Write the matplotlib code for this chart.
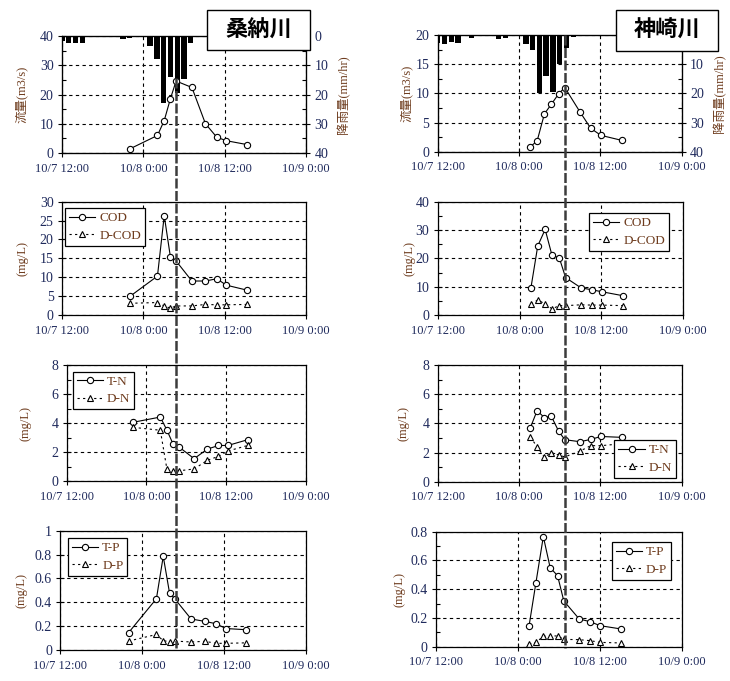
#!/usr/bin/env python3

import numpy as np
import pandas as pd
import matplotlib
matplotlib.use("Agg")
import matplotlib.pyplot as plt
from matplotlib.lines import Line2D
from matplotlib.patches import Rectangle
from matplotlib.ticker import MultipleLocator, FuncFormatter

plt.rcParams['font.family'] = ['Liberation Serif', 'Noto Sans CJK JP']

START = pd.Timestamp("1900-10-07 12:00")
X_TICKS = ["10/7 12:00", "10/8 0:00", "10/8 12:00", "10/9 0:00"]

# 桑納川
kuwano_times = ["10/7 22:00", "10/8 2:05", "10/8 3:05", "10/8 4:00", "10/8 4:50",
                "10/8 7:10", "10/8 9:10", "10/8 10:50", "10/8 12:15", "10/8 15:15"]
kuwano_flow = [1.4, 6.0, 11.1, 18.6, 24.6, 22.4, 10.0, 5.4, 4.2, 2.9]
kuwano_rain = [1.7, 2.3, 2.5, 2.5, 0, 0, 0.3, 0, 0, 1.0, 0.7, 0.3, 0,
               3.4, 7.9, 22.8, 14.0, 19.4, 14.7, 2.4]
kuwano_cod = [4.9, 10.3, 26.3, 15.3, 14.3, 9.0, 9.0, 9.6, 7.9, 6.6]
kuwano_dcod = [3.1, 3.3, 2.4, 1.8, 2.4, 2.4, 2.8, 2.7, 2.7, 2.8]
kuwano_tn = [4.05, 4.41, 3.5, 2.55, 2.37, 1.54, 2.2, 2.45, 2.45, 2.85]
kuwano_dn = [3.7, 3.5, 0.8, 0.7, 0.7, 0.83, 1.43, 1.7, 2.07, 2.45]
kuwano_tp = [0.145, 0.43, 0.785, 0.48, 0.425, 0.26, 0.24, 0.22, 0.18, 0.17]
kuwano_dp = [0.075, 0.13, 0.078, 0.07, 0.075, 0.067, 0.073, 0.056, 0.056, 0.06]
kuwano_peak = 4

# 神崎川
kanzaki_times = ["10/8 1:40", "10/8 2:40", "10/8 3:45", "10/8 4:45", "10/8 5:50",
                 "10/8 6:45", "10/8 9:00", "10/8 10:35", "10/8 12:05", "10/8 15:10"]
kanzaki_flow = [0.86, 1.83, 6.5, 8.1, 9.9, 11.0, 6.8, 4.0, 2.8, 1.94]
kanzaki_rain = [2.6, 3.2, 2.3, 2.7, 0, 0.9, 0, 0, 0, 1.3, 0.9, 0, 0.3,
                3.2, 5.0, 19.8, 14.0, 19.5, 10.0, 4.3, 0.8]
kanzaki_cod = [9.6, 24.4, 30.2, 21.1, 20.1, 13.2, 9.6, 8.9, 8.2, 6.8]
kanzaki_dcod = [3.9, 5.3, 3.9, 2.2, 3.3, 3.3, 3.6, 3.5, 3.5, 3.3]
kanzaki_tn = [3.7, 4.87, 4.39, 4.5, 3.47, 2.88, 2.74, 2.9, 3.1, 3.04]
kanzaki_dn = [3.06, 2.4, 1.67, 2.0, 1.83, 1.7, 2.1, 2.47, 2.47, 2.6]
kanzaki_tp = [0.146, 0.445, 0.766, 0.55, 0.494, 0.318, 0.193, 0.174, 0.146, 0.123]
kanzaki_dp = [0.019, 0.03, 0.072, 0.077, 0.074, 0.051, 0.049, 0.042, 0.03, 0.026]
kanzaki_peak = 5

W, H = 730, 681
TICK_C = '#1f2a5c'
LABEL_C = '#6e3c1e'


def hours(labels):
    t = pd.to_datetime(pd.Series(labels), format="%m/%d %H:%M")
    return ((t - START) / pd.Timedelta(hours=1)).to_numpy()


def box(x0, y0, x1, y1):
    return [x0 / W, 1 - y1 / H, (x1 - x0) / W, (y1 - y0) / H]


def style(ax, ymax, major, minor=None):
    ax.set_xlim(0, 36)
    ax.set_ylim(0, ymax)
    ax.set_xticks(hours(X_TICKS))
    ax.set_xticklabels(X_TICKS)
    ax.yaxis.set_major_locator(MultipleLocator(major))
    ax.yaxis.set_major_formatter(FuncFormatter(lambda v, p: f"{v:g}"))
    if minor:
        ax.yaxis.set_minor_locator(MultipleLocator(minor))
    ax.tick_params(which='major', direction='inout', length=6, width=0.8,
                   labelcolor=TICK_C)
    ax.tick_params(which='minor', direction='in', length=3, width=0.8)
    ax.tick_params(axis='x', pad=4, labelsize=9)
    ax.tick_params(axis='y', pad=3, labelsize=10)
    ax.grid(True, which='major', color='black', linestyle=(0, (3, 3)), linewidth=0.8)
    for s in ax.spines.values():
        s.set_linewidth(0.9)


def ylabel(ax, text, xpix, x0, w):
    ax.set_ylabel(text, fontsize=9, color=LABEL_C)
    ax.yaxis.set_label_coords((xpix + 6 - x0) / w, 0.5)


def flow_panel(fig, rect, t, flow, rain, ymax, major, lab_x, hide_top):
    ax = fig.add_axes(box(*rect))
    axr = ax.twinx()
    rain_t = np.arange(len(rain))
    axr.bar(rain_t, rain, width=0.8, color='black')
    axr.set_ylim(40, 0)
    axr.yaxis.set_major_locator(MultipleLocator(10))
    axr.yaxis.set_minor_locator(MultipleLocator(5))
    # the title box hides the top "0" of the rain axis on the right-hand chart
    axr.yaxis.set_major_formatter(
        FuncFormatter(lambda v, p: "" if (hide_top and v == 0) else f"{v:g}"))
    axr.tick_params(which='major', direction='inout', length=6, width=0.8,
                    labelsize=10, labelcolor=TICK_C, pad=3)
    axr.tick_params(which='minor', direction='in', length=3, width=0.8)
    ax.set_zorder(axr.get_zorder() + 1)
    ax.patch.set_visible(False)
    ax.plot(t, flow, '-', color='black', lw=0.8, marker='o', ms=4.5,
            mfc='white', mec='black', mew=0.8)
    style(ax, ymax, major, major / 2)
    w = rect[2] - rect[0]
    ylabel(ax, "流量(m3/s)", lab_x, rect[0], w)
    axr.set_ylabel("降雨量(mm/hr)", fontsize=9, color=LABEL_C)
    axr.yaxis.set_label_coords((rect[2] + 31 - rect[0]) / w, 0.5)
    return ax


def quality_panel(fig, rect, t, total, dissolved, names, ymax, major, minor,
                  lab_x, anchor):
    ax = fig.add_axes(box(*rect))
    ax.plot(t, total, '-', color='black', lw=0.8, marker='o', ms=4.5,
            mfc='white', mec='black', mew=0.8, label=names[0])
    ax.plot(t, dissolved, linestyle=(0, (2, 3)), color='black', lw=0.8,
            marker='^', ms=5, mfc='white', mec='black', mew=0.8, label=names[1])
    style(ax, ymax, major, minor)
    ylabel(ax, "(mg/L)", lab_x, rect[0], rect[2] - rect[0])
    leg = ax.legend(loc='upper left', bbox_to_anchor=anchor, frameon=True,
                    fancybox=False, edgecolor='black', framealpha=1,
                    fontsize=9.5, handlelength=2.0, borderpad=0.3,
                    labelspacing=0.4, handletextpad=0.3, borderaxespad=0)
    leg.get_frame().set_linewidth(0.9)
    for txt in leg.get_texts():
        txt.set_color(LABEL_C)
    return ax


def river_column(fig, name, title_rect, rects, lab_xs, anchors, d, peak, line_top,
                 cod_max, hide_top):
    t = hours(d['times'])
    ax_flow = flow_panel(fig, rects[0], t, d['flow'], d['rain'],
                         d['flow_max'], d['flow_major'], lab_xs[0], hide_top)
    quality_panel(fig, rects[1], t, d['cod'], d['dcod'], ["COD", "D-COD"],
                  cod_max, 5 if cod_max == 30 else 10, None if cod_max == 30 else 5,
                  lab_xs[1], anchors[0])
    quality_panel(fig, rects[2], t, d['tn'], d['dn'], ["T-N", "D-N"],
                  8, 2, 1, lab_xs[2], anchors[1])
    quality_panel(fig, rects[3], t, d['tp'], d['dp'], ["T-P", "D-P"],
                  d['p_max'], 0.2, d['p_minor'], lab_xs[3], anchors[2])

    # peak-flow marker line across all panels
    xd = ax_flow.transData.transform((t[peak], 0))[0] / W
    fig.add_artist(Line2D([xd, xd], [1 - line_top / H, 1 - 648 / H],
                          transform=fig.transFigure, color='#3c3c3c',
                          lw=1.8, linestyle=(0, (4, 1)), zorder=5))

    x0, y0, x1, y1 = title_rect
    fig.add_artist(Rectangle((x0 / W, 1 - y1 / H), (x1 - x0) / W, (y1 - y0) / H,
                             transform=fig.transFigure, fc='white', ec='black',
                             lw=1, zorder=10))
    fig.text((x0 + x1) / 2 / W, 1 - (y0 + y1) / 2 / H, name, ha='center', va='center',
             fontsize=16, family='Noto Sans CJK JP', weight='bold', zorder=11)


fig = plt.figure(figsize=(7.3, 6.81), dpi=100)

river_column(
    fig, "桑納川", (207, 10, 310, 50),
    [(62, 36, 306, 153), (62, 201.7, 306, 315), (66.7, 365, 306, 481), (60.3, 530.7, 306, 650)],
    [22, 22.7, 26, 21.7],
    [(0.012, 0.944), (0.025, 0.942), (0.031, 0.939)],
    dict(times=kuwano_times, flow=kuwano_flow, rain=kuwano_rain, cod=kuwano_cod,
         dcod=kuwano_dcod, tn=kuwano_tn, dn=kuwano_dn, tp=kuwano_tp, dp=kuwano_dp,
         flow_max=40, flow_major=10, p_max=1.0, p_minor=None),
    kuwano_peak, 78, 30, False)

river_column(
    fig, "神崎川", (616, 10, 718, 51),
    [(437.7, 35, 681.7, 151.7), (437.7, 201.7, 683.3, 315), (437.7, 365, 681.7, 481.7),
     (435.7, 531.7, 681.7, 646.7)],
    [406.7, 409, 403, 400],
    [(0.616, 0.90), (0.724, 0.357), (0.715, 0.91)],
    dict(times=kanzaki_times, flow=kanzaki_flow, rain=kanzaki_rain, cod=kanzaki_cod,
         dcod=kanzaki_dcod, tn=kanzaki_tn, dn=kanzaki_dn, tp=kanzaki_tp, dp=kanzaki_dp,
         flow_max=20, flow_major=5, p_max=0.8, p_minor=0.1),
    kanzaki_peak, 35, 40, True)

fig.savefig("out.png", dpi=100)
